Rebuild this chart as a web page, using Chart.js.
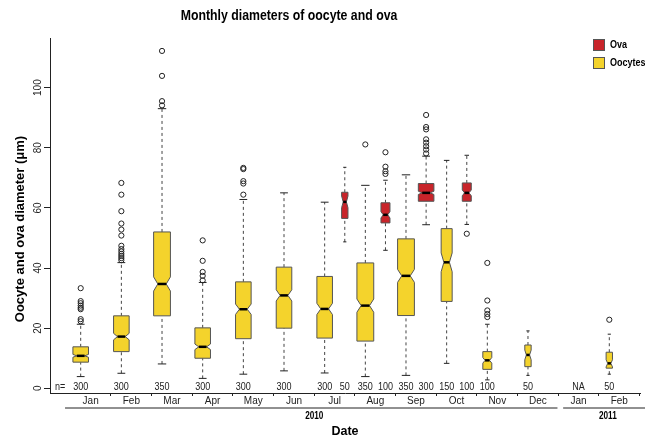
<!DOCTYPE html>
<html>
<head>
<meta charset="utf-8">
<script src="https://cdn.jsdelivr.net/npm/chart.js@4.4.1/dist/chart.umd.min.js"></script>
<style>
  html, body { margin: 0; padding: 0; background: #fff; }
  #wrap { width: 645px; height: 439px; }
</style>
</head>
<body>
<div id="wrap"><canvas id="myChart"></canvas></div>
<script>
// month slots along the x axis (2010 Jan..Dec, 2011 Jan..Feb)
const months = ['Jan', 'Feb', 'Mar', 'Apr', 'May', 'Jun', 'Jul', 'Aug', 'Sep', 'Oct', 'Nov', 'Dec', 'Jan', 'Feb'];
const years = ['2010', '2011'];
const yTicks = [0, 20, 40, 60, 80, 100];

// oocytes (null = no sample)
const oocyteN   = [300, 300, 350, 300, 300, 300, 300, 350, 350, 150, 100, 50, null, 50];
const oocyteLo  = [3.9, 5.0, 8.1, 3.3, 4.7, 5.8, 5.1, 3.9, 4.3, 8.3, 2.8, 4.3, null, 4.7];
const oocyteQ1  = [8.7, 12.2, 24.1, 10.0, 16.5, 20.0, 16.7, 15.7, 24.2, 28.9, 6.3, 7.2, null, 6.7];
const oocyteMed = [10.8, 17.2, 34.7, 13.8, 26.3, 30.9, 26.4, 27.5, 37.4, 41.9, 9.3, 11.1, null, 8.3];
const oocyteQ3  = [13.8, 24.1, 52.0, 20.1, 35.4, 40.3, 37.2, 41.7, 49.7, 53.1, 12.2, 14.4, null, 12.0];
const oocyteHi  = [21.3, 41.8, 93.0, 35.2, 62.8, 65.0, 61.9, 67.5, 71.0, 75.8, 21.3, 19.1, null, 18.0];
const oocyteOut = [
  [33.3, 29.0, 28.3, 27.5, 26.8, 26.3, 23.0, 22.3],
  [68.3, 64.4, 58.9, 54.8, 52.8, 50.8, 47.4, 46.3, 45.5, 44.7, 44.0, 43.3, 42.6],
  [112.2, 103.9, 95.5, 94.1],
  [49.2, 42.4, 38.7, 37.4, 35.9],
  [73.3, 72.9, 68.9, 68.1, 64.4],
  [], [], [81.1], [], [],
  [41.7, 29.2, 25.9, 24.7, 23.7],
  [], [], [22.8]
];

// ova
const ovaN   = [null, null, null, null, null, null, 50, 100, 300, 100, null, null, null, null];
const ovaLo  = [null, null, null, null, null, null, 48.7, 45.9, 54.4, 54.5, null, null, null, null];
const ovaQ1  = [null, null, null, null, null, null, 56.5, 55.0, 62.2, 62.2, null, null, null, null];
const ovaMed = [null, null, null, null, null, null, 62.0, 57.7, 65.0, 65.0, null, null, null, null];
const ovaQ3  = [null, null, null, null, null, null, 65.2, 61.7, 68.1, 68.3, null, null, null, null];
const ovaHi  = [null, null, null, null, null, null, 73.5, 69.2, 77.2, 77.5, null, null, null, null];
const ovaOut = [
  [], [], [], [], [], [],
  [],
  [78.5, 73.7, 72.2, 71.3],
  [90.9, 86.9, 86.1, 82.8, 81.7, 80.5, 79.4, 78.1],
  [51.4],
  [], [], [], []
];

const yellow = '#F4D32C';
const red = '#C8242A';
const font = "'Liberation Sans', Arial, sans-serif";

function outlierPoints(out, shift) {
  const pts = [];
  out.forEach((list, i) => {
    list.forEach(v => pts.push({ x: i + shift, y: v }));
  });
  return pts;
}

// the original figure is squeezed sideways, so squeeze horizontal text too
function narrowText(ctx, text, x, y) {
  ctx.save();
  ctx.translate(x, y);
  ctx.scale(0.82, 1);
  ctx.fillText(text, 0, 0);
  ctx.restore();
}

function drawBoxes(chart, N, lo, q1, med, q3, hi, shift, fill) {
  const ctx = chart.ctx;
  const xs = chart.scales.x;
  const ys = chart.scales.y;
  for (let i = 0; i < N.length; i++) {
    if (N[i] == null) continue;
    const cx = xs.getPixelForValue(i + shift);
    const w = (xs.getPixelForValue(0.1915 * Math.sqrt(N[i] / 300)) - xs.getPixelForValue(0));
    const iqr = q3[i] - q1[i];
    const cLo = med[i] - 1.58 * iqr / Math.sqrt(N[i]);
    const cHi = med[i] + 1.58 * iqr / Math.sqrt(N[i]);
    const Y = v => ys.getPixelForValue(v);

    // whiskers
    ctx.save();
    ctx.strokeStyle = '#444';
    ctx.lineWidth = 1;
    ctx.setLineDash([3, 3]);
    ctx.beginPath();
    ctx.moveTo(cx, Y(lo[i])); ctx.lineTo(cx, Y(q1[i]));
    ctx.moveTo(cx, Y(q3[i])); ctx.lineTo(cx, Y(hi[i]));
    ctx.stroke();
    ctx.setLineDash([]);
    ctx.strokeStyle = '#222';
    ctx.beginPath();
    ctx.moveTo(cx - w / 2, Y(lo[i])); ctx.lineTo(cx + w / 2, Y(lo[i]));
    ctx.moveTo(cx - w / 2, Y(hi[i])); ctx.lineTo(cx + w / 2, Y(hi[i]));
    ctx.stroke();

    // notched box
    ctx.beginPath();
    ctx.moveTo(cx - w, Y(q1[i]));
    ctx.lineTo(cx + w, Y(q1[i]));
    ctx.lineTo(cx + w, Y(cLo));
    ctx.lineTo(cx + w / 2, Y(med[i]));
    ctx.lineTo(cx + w, Y(cHi));
    ctx.lineTo(cx + w, Y(q3[i]));
    ctx.lineTo(cx - w, Y(q3[i]));
    ctx.lineTo(cx - w, Y(cHi));
    ctx.lineTo(cx - w / 2, Y(med[i]));
    ctx.lineTo(cx - w, Y(cLo));
    ctx.closePath();
    ctx.fillStyle = fill;
    ctx.fill();
    ctx.strokeStyle = '#555';
    ctx.lineWidth = 1;
    ctx.stroke();

    // median
    ctx.strokeStyle = '#000';
    ctx.lineWidth = 2.5;
    ctx.beginPath();
    ctx.moveTo(cx - w / 2, Y(med[i])); ctx.lineTo(cx + w / 2, Y(med[i]));
    ctx.stroke();
    ctx.restore();
  }
}

const boxPlugin = {
  id: 'boxes',
  beforeDatasetsDraw(chart) {
    drawBoxes(chart, oocyteN, oocyteLo, oocyteQ1, oocyteMed, oocyteQ3, oocyteHi, -0.245, yellow);
    drawBoxes(chart, ovaN, ovaLo, ovaQ1, ovaMed, ovaQ3, ovaHi, 0.25, red);
  },
  afterDraw(chart) {
    const ctx = chart.ctx;
    const xs = chart.scales.x;
    const ys = chart.scales.y;
    const area = chart.chartArea;
    ctx.save();

    // title
    ctx.fillStyle = '#000';
    ctx.font = 'bold 15px ' + font;
    ctx.textAlign = 'center';
    ctx.textBaseline = 'middle';
    narrowText(ctx, 'Monthly diameters of oocyte and ova', 289, 16);

    // y title
    ctx.save();
    ctx.translate(20, 229);
    ctx.rotate(-Math.PI / 2);
    ctx.font = 'bold 13px ' + font;
    ctx.fillText('Oocyte and ova diameter (\u03bcm)', 0, 0);
    ctx.restore();

    // sample sizes
    ctx.font = '11px ' + font;
    ctx.fillStyle = '#222';
    const ny = ys.getPixelForValue(0.5);
    narrowText(ctx, 'n=', xs.getPixelForValue(-0.75), ny);
    for (let i = 0; i < months.length; i++) {
      if (oocyteN[i] == null && ovaN[i] == null) {
        narrowText(ctx, 'NA', xs.getPixelForValue(i), ny);
        continue;
      }
      if (oocyteN[i] != null) narrowText(ctx, String(oocyteN[i]), xs.getPixelForValue(i - 0.245), ny);
      if (ovaN[i] != null) narrowText(ctx, String(ovaN[i]), xs.getPixelForValue(i + 0.25), ny);
    }

    // year brackets
    const ly = area.bottom + 15;
    ctx.strokeStyle = '#222';
    ctx.lineWidth = 1;
    ctx.beginPath();
    ctx.moveTo(xs.getPixelForValue(-0.63), ly); ctx.lineTo(xs.getPixelForValue(11.48), ly);
    ctx.moveTo(xs.getPixelForValue(11.62), ly); ctx.lineTo(xs.getPixelForValue(14), ly);
    ctx.stroke();
    ctx.font = 'bold 10px ' + font;
    ctx.fillStyle = '#000';
    narrowText(ctx, years[0], xs.getPixelForValue(5.5), area.bottom + 23);
    narrowText(ctx, years[1], xs.getPixelForValue(12.72), area.bottom + 23);

    // legend
    const items = [['Ova', red, 45], ['Oocytes', yellow, 63]];
    ctx.font = 'bold 11px ' + font;
    ctx.textAlign = 'left';
    items.forEach(it => {
      ctx.fillStyle = it[1];
      ctx.fillRect(593.5, it[2] - 5.5, 11, 11);
      ctx.strokeStyle = '#555';
      ctx.strokeRect(593.5, it[2] - 5.5, 11, 11);
      ctx.fillStyle = '#000';
      narrowText(ctx, it[0], 610, it[2]);
    });
    ctx.restore();
  }
};

const ctx = document.getElementById('myChart').getContext('2d');
const myChart = new Chart(ctx, {
  type: 'scatter',
  data: {
    datasets: [
      {
        label: 'Oocytes',
        data: outlierPoints(oocyteOut, -0.245),
        pointRadius: 2.6,
        pointBackgroundColor: 'rgba(0,0,0,0)',
        pointBorderColor: '#222',
        pointBorderWidth: 1
      },
      {
        label: 'Ova',
        data: outlierPoints(ovaOut, 0.25),
        pointRadius: 2.6,
        pointBackgroundColor: 'rgba(0,0,0,0)',
        pointBorderColor: '#222',
        pointBorderWidth: 1
      }
    ]
  },
  options: {
    responsive: true,
    maintainAspectRatio: false,
    animation: false,
    layout: { padding: { top: 38, left: 0, right: 0, bottom: 0 } },
    plugins: {
      legend: { display: false },
      tooltip: { enabled: false },
      title: { display: false }
    },
    scales: {
      x: {
        type: 'linear',
        min: -1,
        max: 13.51,
        afterBuildTicks: scale => { scale.ticks = months.map((m, i) => ({ value: i })); },
        afterFit: scale => { scale.height = 46; scale.paddingLeft = 0; scale.paddingRight = 0; },
        border: { display: true, color: '#222', width: 1 },
        grid: {
          drawOnChartArea: false,
          drawTicks: true,
          offset: true,
          tickLength: 3,
          tickColor: c => (c.index === 0 ? 'rgba(0,0,0,0)' : '#222')
        },
        ticks: {
          autoSkip: false,
          maxRotation: 0,
          padding: -1,
          color: '#222',
          font: { family: font, size: 10 },
          callback: (v, i) => months[i]
        },
        title: {
          display: true,
          text: 'Date',
          color: '#000',
          font: { family: font, size: 12.5, weight: 'bold' },
          padding: { top: 0, bottom: 0 }
        }
      },
      y: {
        min: -1.56,
        max: 116.5,
        afterBuildTicks: scale => { scale.ticks = yTicks.map(v => ({ value: v })); },
        afterFit: scale => { scale.width = 50; scale.paddingTop = 0; scale.paddingBottom = 0; },
        border: { display: true, color: '#222', width: 1 },
        grid: { drawOnChartArea: false, drawTicks: true, tickLength: 6, color: '#222' },
        ticks: {
          minRotation: 90,
          maxRotation: 90,
          crossAlign: 'center',
          padding: -3,
          color: '#222',
          font: { family: font, size: 10 }
        }
      }
    }
  },
  plugins: [boxPlugin]
});
</script>
</body>
</html>
